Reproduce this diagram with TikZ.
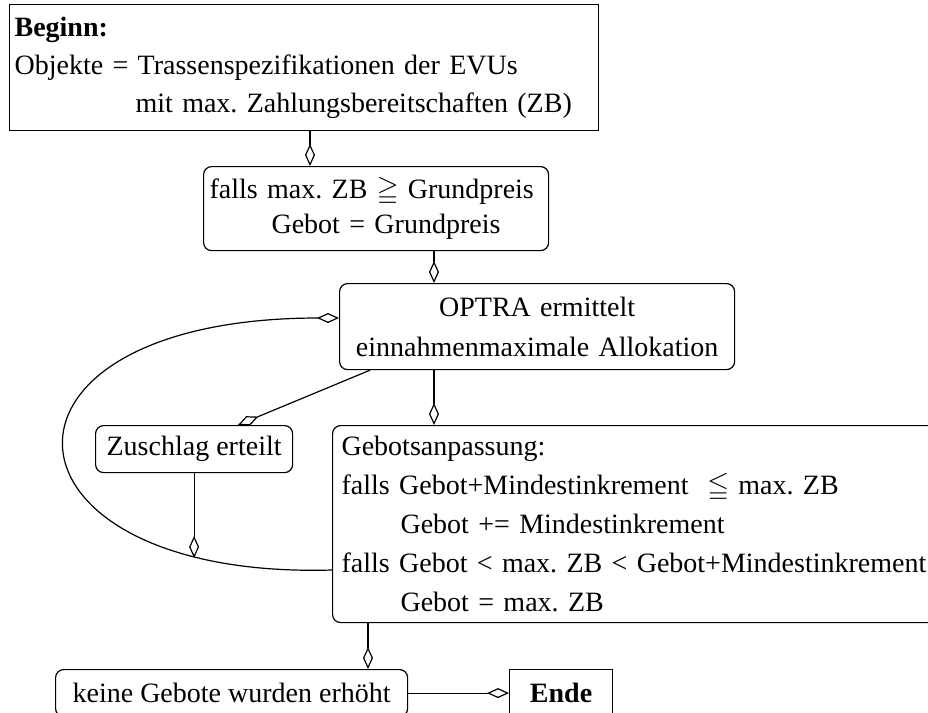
\documentclass[tikz,border=0pt]{standalone}
\usepackage{fontspec}
\setmainfont{Liberation Serif}
\usepackage{amssymb}
\usepackage{tikz}
\usetikzlibrary{arrows.meta, positioning, calc}
\frenchspacing

\begin{document}
\begin{tikzpicture}[x=0.5pt, y=-0.5pt,
        arr/.style={-{Diamond[open, length=11pt, width=5pt]}, line width=0.6pt},
        box/.style={draw, line width=0.6pt, anchor=north west, inner ysep=0pt,
                    font=\fontsize{14}{19}\selectfont},
        rbox/.style={box, rounded corners=4pt}
      ]
        \path[use as bounding box, clip] (0,0) rectangle (928,713);

        \node[box, text width=289.5pt, inner xsep=2.5pt, minimum height=63pt,
              align=left] (start) at (9,4)
              {\textbf{Beginn:}\\
               Objekte = Trassenspezifikationen der EVUs\\
               \hspace*{60.5pt}mit max. Zahlungsbereitschaften (ZB)};
        \node[rbox, text width=166.5pt, inner xsep=3pt, minimum height=42pt,
              align=left] (grund) at (203,166)
              {\mbox{falls max. ZB $\geqq$ Grundpreis}\\[-1.5pt]
               \hspace*{31pt}Gebot = Grundpreis};
        \node[rbox, text width=191.5pt, inner xsep=3pt, minimum height=43pt,
              align=center] (optra) at (339,283)
              {OPTRA ermittelt\\[1pt]
               einnahmenmaximale Allokation};
        \node[rbox, minimum width=98.5pt, minimum height=23.5pt] (zuschlag) at (95,425)
              {Zuschlag erteilt};
        \node[rbox, text width=310pt, inner xsep=4.5pt, minimum height=98.5pt,
              align=left] (anpassung) at (332,425)
              {Gebotsanpassung:\\[0.5pt]
               falls Gebot+Mindestinkrement \ $\leqq$ max. ZB\\[0.5pt]
               \hspace*{29.5pt}Gebot += Mindestinkrement\\[0.5pt]
               falls Gebot < max. ZB < Gebot+Mindestinkrement\\[0.5pt]
               \hspace*{29.5pt}Gebot = max. ZB};
        \node[rbox, minimum width=176pt, minimum height=23.5pt] (keine) at (55,669)
              {keine Gebote wurden erh\"oht};
        \node[box, minimum width=51.5pt, minimum height=23.5pt] (ende) at (509,669)
              {\textbf{Ende}};

        \draw[arr] (start.south -| 310,0) -- (grund.north -| 310,0);
        \draw[arr] (grund.south -| 434,0) -- (optra.north -| 434,0);
        \draw[arr] (optra.south -| 434,0) -- (anpassung.north -| 434,0);
        \draw[arr] (optra.south -| 370,0) -- (zuschlag.north -| 238,0);
        \draw[arr] (anpassung.west |- 0,570)
              .. controls (-15,580) and (-35,318) .. coordinate[pos=0.15] (hit)
              (optra.west |- 0,318);
        \draw[arr] (zuschlag.south) -- (zuschlag.south |- hit);
        \draw[arr] (anpassung.south -| 368,0) -- (keine.north -| 368,0);
        \draw[arr] (keine.east) -- (ende.west);
      \end{tikzpicture}
\end{document}
